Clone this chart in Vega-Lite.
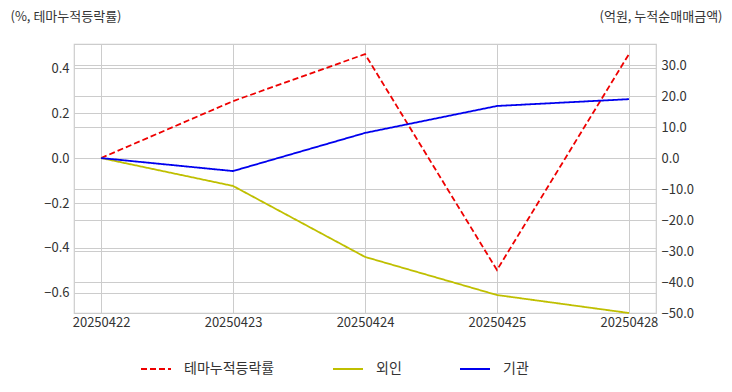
{
  "$schema": "https://vega.github.io/schema/vega-lite/v6.json",
  "width": 582,
  "height": 269,
  "autosize": {"type": "none"},
  "padding": {"left": 74, "top": 44, "right": 76, "bottom": 79},
  "background": "white",
  "config": {
    "font": "Noto Sans CJK KR",
    "view": {"stroke": "#cccccc", "strokeWidth": 1.2},
    "axis": {
      "labelFont": "Noto Sans CJK KR",
      "titleFont": "Noto Sans CJK KR",
      "labelColor": "#333333",
      "titleColor": "#333333",
      "labelFontSize": 13,
      "titleFontSize": 13,
      "titleFontWeight": "normal",
      "gridColor": "#cccccc",
      "gridWidth": 1,
      "domain": false,
      "ticks": false
    },
    "legend": {"labelFont": "Noto Sans CJK KR", "labelFontSize": 14, "labelColor": "#333333"}
  },
  "data": {
    "values": [
      {"date": "20250422", "series": "테마누적등락률", "value": 0.0},
      {"date": "20250423", "series": "테마누적등락률", "value": 0.253},
      {"date": "20250424", "series": "테마누적등락률", "value": 0.462},
      {"date": "20250425", "series": "테마누적등락률", "value": -0.498},
      {"date": "20250428", "series": "테마누적등락률", "value": 0.462},
      {"date": "20250422", "series": "외인", "value": 0.0},
      {"date": "20250423", "series": "외인", "value": -9.0},
      {"date": "20250424", "series": "외인", "value": -31.9},
      {"date": "20250425", "series": "외인", "value": -44.2},
      {"date": "20250428", "series": "외인", "value": -50.0},
      {"date": "20250422", "series": "기관", "value": 0.0},
      {"date": "20250423", "series": "기관", "value": -4.2},
      {"date": "20250424", "series": "기관", "value": 8.1},
      {"date": "20250425", "series": "기관", "value": 16.8},
      {"date": "20250428", "series": "기관", "value": 19.0}
    ]
  },
  "encoding": {
    "x": {
      "field": "date",
      "type": "ordinal",
      "scale": {"type": "point", "padding": 0.205},
      "axis": {"title": null, "labelAngle": 0, "labelPadding": 3, "grid": true}
    },
    "color": {
      "field": "series",
      "type": "nominal",
      "scale": {"domain": ["테마누적등락률", "외인", "기관"], "range": ["#ee0000", "#bfbf00", "#0000ee"]},
      "legend": {
        "title": null,
        "orient": "none",
        "legendX": 66,
        "legendY": 309,
        "direction": "horizontal",
        "symbolType": "stroke",
        "symbolSize": 900,
        "symbolStrokeWidth": 2,
        "columnPadding": 54,
        "labelOffset": 12
      }
    },
    "strokeDash": {
      "field": "series",
      "type": "nominal",
      "scale": {"domain": ["테마누적등락률", "외인", "기관"], "range": [[6, 3], [1, 0], [1, 0]]},
      "legend": {
        "title": null,
        "orient": "none",
        "legendX": 66,
        "legendY": 309,
        "direction": "horizontal",
        "symbolType": "stroke",
        "symbolSize": 900,
        "symbolStrokeWidth": 2,
        "columnPadding": 54,
        "labelOffset": 12
      }
    }
  },
  "layer": [
    {
      "transform": [{"filter": "datum.series === '테마누적등락률'"}],
      "mark": {"type": "line", "strokeWidth": 1.8},
      "encoding": {
        "y": {
          "field": "value",
          "type": "quantitative",
          "scale": {"domain": [-0.689, 0.507], "nice": false, "zero": false},
          "axis": {
            "orient": "left",
            "values": [0.4, 0.2, 0.0, -0.2, -0.4, -0.6],
            "format": ".1f",
            "labelPadding": 5,
            "grid": true,
            "title": "(%, 테마누적등락률)",
            "titleAngle": 0,
            "titleAlign": "left",
            "titleBaseline": "middle",
            "titleX": -64,
            "titleY": -28
          }
        }
      }
    },
    {
      "transform": [{"filter": "datum.series !== '테마누적등락률'"}],
      "mark": {"type": "line", "strokeWidth": 1.8},
      "encoding": {
        "y": {
          "field": "value",
          "type": "quantitative",
          "scale": {"domain": [-50.0, 36.8], "nice": false, "zero": false},
          "axis": {
            "orient": "right",
            "values": [30, 20, 10, 0, -10, -20, -30, -40, -50],
            "format": ".1f",
            "labelPadding": 5,
            "grid": true,
            "title": "(억원, 누적순매매금액)",
            "titleAngle": 0,
            "titleAlign": "right",
            "titleBaseline": "middle",
            "titleX": 66,
            "titleY": -28
          }
        }
      }
    }
  ],
  "resolve": {"scale": {"y": "independent"}}
}
